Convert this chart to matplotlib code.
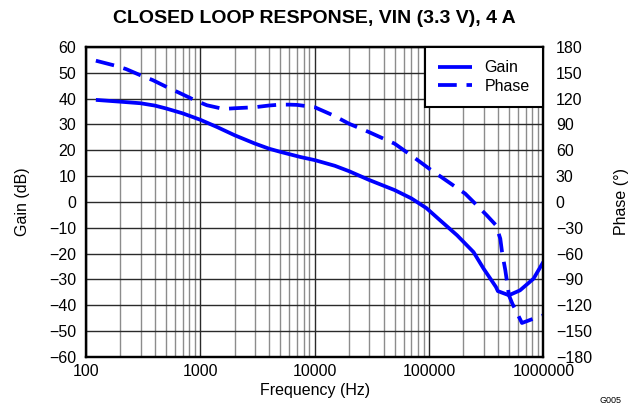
import matplotlib
matplotlib.use('Agg')
import matplotlib.pyplot as plt
from matplotlib.ticker import FixedLocator, FuncFormatter, LogLocator, NullFormatter

plt.rcParams['font.family'] = ['Liberation Sans', 'DejaVu Sans']

# closed loop gain, dB
gain_freq = [122, 200, 300, 400, 500, 700, 1000, 1400, 2000, 3000, 4000, 5000,
             7500, 10000, 15000, 20000, 30000, 50000, 70000, 95000, 125000,
             176000, 245000, 300000, 385000, 400000, 500000, 625000, 820000,
             1000000]
gain_db = [39.5, 38.8, 38.2, 37.3, 36.2, 34.3, 31.8, 29, 25.8, 22.6, 20.6, 19.4,
           17.4, 16.2, 14.0, 11.9, 8.5, 4.6, 1.4, -2.4, -7.1,
           -12.9, -19.4, -25.8, -32.9, -34.5, -36.1, -34.2, -29.7,
           -23.2]

# closed loop phase, degrees
phase_freq = [122, 183, 224, 313, 383, 535, 655, 920, 1140, 1590, 2000, 3000,
              4000, 5000, 6000, 7000, 9000, 10000, 14600, 20000, 30000, 50000,
              70000, 100000, 160000, 207000, 245000, 320000, 385000, 420000,
              435000, 465000, 500000, 535000, 650000, 820000, 1000000]
phase_deg = [164, 158, 154.3, 146, 141.5, 132, 126.7, 117.4, 112.3, 108, 108.8, 110,
             112, 113, 113, 112.7, 110.8, 110, 100.4, 90.8, 81, 67.7,
             54, 38.8, 20, 9.7, 0, -15.5, -27, -42.6,
             -58, -79.4, -108.4, -118, -140.5, -135.5, -131.6]

gain_ticks = list(range(-60, 61, 10))
phase_ticks = list(range(-180, 181, 30))
freq_ticks = [100, 1000, 10000, 100000, 1000000]

fig = plt.figure(figsize=(6.37, 4.08), dpi=100)
ax = fig.add_axes([0.135, 0.125, 0.718, 0.760])
ax2 = ax.twinx()

ax.set_xscale('log')
ax.set_xlim(100, 1000000)
ax.set_ylim(-60, 60)
ax2.set_ylim(-180, 180)

ax.xaxis.set_major_locator(FixedLocator(freq_ticks))
ax.xaxis.set_major_formatter(FuncFormatter(lambda v, p: '%d' % round(v)))
ax.xaxis.set_minor_locator(LogLocator(base=10, subs=range(2, 10)))
ax.xaxis.set_minor_formatter(NullFormatter())
ax.set_yticks(gain_ticks)
ax2.set_yticks(phase_ticks)

ax.grid(True, which='major', axis='both', color='#2a2a2a', lw=1.0)
ax.grid(True, which='minor', axis='x', color='#8c8c8c', lw=1.0)
ax.set_axisbelow(True)

# gain is drawn on the phase axis: 10 dB per 30 degrees
line_g, = ax2.plot(gain_freq, [g * 3 for g in gain_db], color='#0000ff', lw=2.7,
                   label='Gain', solid_capstyle='butt')
line_p, = ax2.plot(phase_freq, phase_deg, color='#0000ff', lw=2.7,
                   dashes=(5, 2.6), label='Phase')

ax.tick_params(axis='x', which='both', length=0, labelsize=11.5, pad=5)
ax.tick_params(axis='y', which='both', length=0, labelsize=11.5, pad=7)
ax2.tick_params(axis='y', which='both', length=0, labelsize=11.5, pad=9)
for a in (ax, ax2):
    for s in a.spines.values():
        s.set_linewidth(1.6)
        s.set_color('black')

ax.set_xlabel('Frequency (Hz)', fontsize=11.5, labelpad=3)
ax.set_ylabel('Gain (dB)', fontsize=11.5, labelpad=14)
ax2.set_ylabel('Phase (°)', fontsize=11.5, labelpad=16)
ax.set_title('CLOSED LOOP RESPONSE, VIN (3.3 V), 4 A', fontsize=14,
             fontweight='bold', pad=17)

leg = ax2.legend(handles=[line_g, line_p], loc='upper right', fontsize=11.5,
                 frameon=True, fancybox=False, framealpha=1, edgecolor='black',
                 borderaxespad=0, handlelength=2.1, labelspacing=0.2,
                 borderpad=0.85, handletextpad=0.8)
leg.get_frame().set_linewidth(1.5)

fig.text(0.975, 0.008, 'G005', fontsize=6.5, ha='right', va='bottom')

fig.savefig('out.png', dpi=100)
